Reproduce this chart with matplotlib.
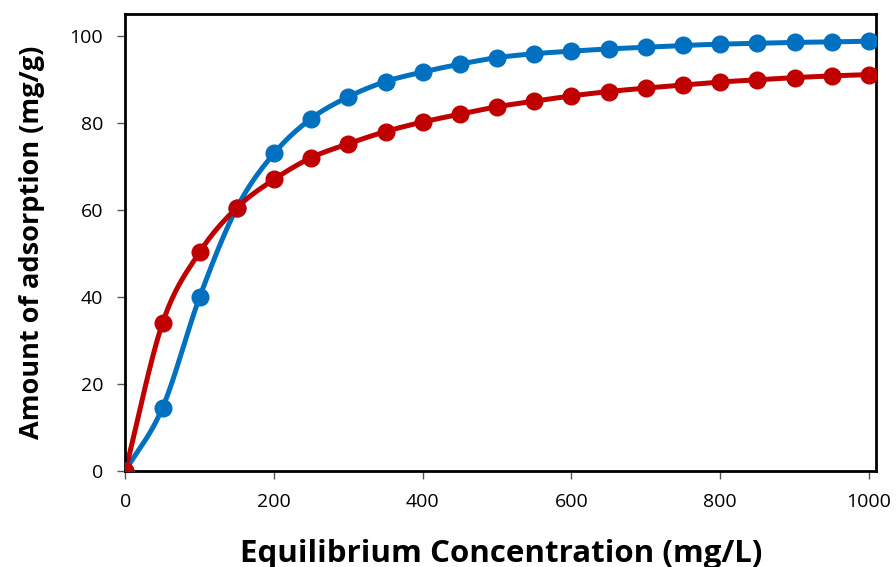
import numpy as np
import matplotlib
matplotlib.use("Agg")
import matplotlib.pyplot as plt

# adsorption isotherm data (mg/L -> mg/g)
conc = [0, 50, 100, 150, 200, 250, 300, 350, 400, 450, 500,
        550, 600, 650, 700, 750, 800, 850, 900, 950, 1000]
blue_q = [0, 14.5, 40.0, 60.5, 73.0, 81.0, 86.0, 89.5, 91.7, 93.5, 95.0,
          95.9, 96.5, 97.0, 97.4, 97.8, 98.1, 98.3, 98.5, 98.6, 98.8]
red_q = [0, 34.0, 50.3, 60.5, 67.0, 72.0, 75.2, 78.0, 80.2, 82.0, 83.7,
         85.0, 86.2, 87.2, 88.0, 88.7, 89.4, 89.9, 90.4, 90.8, 91.1]


def smooth(x, y, n=20):
    """Catmull-Rom curve through the points, like a spreadsheet smoothed line."""
    x = np.asarray(x, float); y = np.asarray(y, float)
    px = np.concatenate([[2 * x[0] - x[1]], x, [2 * x[-1] - x[-2]]])
    py = np.concatenate([[2 * y[0] - y[1]], y, [2 * y[-1] - y[-2]]])
    t = np.linspace(0, 1, n, endpoint=False)
    xs, ys = [], []
    for i in range(1, len(px) - 2):
        for p, out in ((px, xs), (py, ys)):
            p0, p1, p2, p3 = p[i - 1], p[i], p[i + 1], p[i + 2]
            out.extend(0.5 * (2 * p1 + (-p0 + p2) * t
                              + (2 * p0 - 5 * p1 + 4 * p2 - p3) * t ** 2
                              + (-p0 + 3 * p1 - 3 * p2 + p3) * t ** 3))
    xs.append(x[-1]); ys.append(y[-1])
    return np.array(xs), np.array(ys)


BLUE = "#0070c0"
RED = "#c00000"

fig = plt.figure(figsize=(8.96, 5.67), dpi=100)
ax = fig.add_axes([0.14, 0.17, 0.838, 0.805])

for yv, c in ((blue_q, BLUE), (red_q, RED)):
    sx, sy = smooth(conc, yv)
    ax.plot(sx, sy, color=c, lw=3.6, zorder=2, solid_capstyle="round")
    ax.plot(conc, yv, "o", color=c, ms=12, zorder=3)

ax.set_xlim(0, 1010)
ax.set_ylim(0, 105)
ax.set_xticks(range(0, 1001, 200))
ax.set_yticks(range(0, 101, 20))
for s in ax.spines.values():
    s.set_linewidth(2)
    s.set_color("black")
ax.tick_params(direction="out", length=6, width=1, color="#555555",
               labelsize=14, pad=10)
ax.set_xlabel("Equilibrium Concentration (mg/L)", fontsize=22.5,
              fontweight="bold", labelpad=20)
ax.set_ylabel("Amount of adsorption (mg/g)", fontsize=19.5,
              fontweight="bold", labelpad=18)
for lab in ax.get_xticklabels() + ax.get_yticklabels():
    lab.set_fontfamily("Open Sans")
ax.xaxis.label.set_fontfamily("Open Sans")
ax.yaxis.label.set_fontfamily("Open Sans")

fig.savefig("out.png", dpi=100)
